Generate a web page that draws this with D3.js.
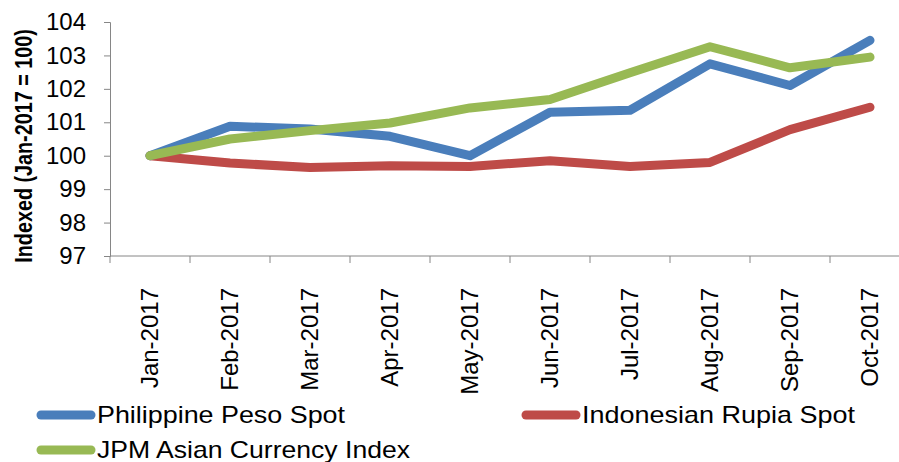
<!DOCTYPE html>
<html>
<head>
<meta charset="utf-8">
<script src="https://cdn.jsdelivr.net/npm/d3@7"></script>
<style>
  body { margin: 0; background: #fff; }
  svg { display: block; font-family: "Liberation Sans", Arial, sans-serif; }
</style>
</head>
<body>
<script>
var months = ['Jan-2017', 'Feb-2017', 'Mar-2017', 'Apr-2017', 'May-2017',
              'Jun-2017', 'Jul-2017', 'Aug-2017', 'Sep-2017', 'Oct-2017'];
var php = [100, 100.88, 100.8, 100.58, 100.0, 101.3, 101.36, 102.75, 102.1, 103.45];
var idr = [100, 99.78, 99.65, 99.7, 99.68, 99.85, 99.68, 99.8, 100.78, 101.45];
var jpm = [100, 100.5, 100.75, 100.98, 101.43, 101.68, 102.48, 103.26, 102.63, 102.95];
var yTicks = [97, 98, 99, 100, 101, 102, 103, 104];
var seriesNames = ['Philippine Peso Spot', 'Indonesian Rupia Spot', 'JPM Asian Currency Index'];

var w = 899;
var h = 462;
var axisColor = '#868686';
var colors = ['#4a7ebb', '#be4b48', '#98b954'];

var svg = d3.select('body')
            .append('svg')
            .attr('width', w)
            .attr('height', h);

// plot area runs a bit past the right edge, like the original
var x = d3.scaleBand().domain(months).range([110, 910]);
var y = d3.scaleLinear().domain([97, 104]).range([256, 22]);

// y axis
var yAxis = svg.append('g')
  .attr('transform', 'translate(110,0)')
  .call(d3.axisLeft(y).tickValues(yTicks).tickSize(6).tickPadding(18).tickFormat(d3.format('d')));
yAxis.select('.domain').attr('stroke', axisColor);
yAxis.selectAll('.tick line').attr('stroke', axisColor);
yAxis.selectAll('.tick text')
  .attr('fill', '#000')
  .attr('font-size', '24px')
  .attr('font-family', '"Liberation Sans", Arial, sans-serif');

// x axis: ticks sit on the band edges
var xAxis = svg.append('g').attr('transform', 'translate(0,256)');
xAxis.append('line')
  .attr('x1', 110).attr('x2', 910)
  .attr('stroke', axisColor);
var edges = months.map(function(m) { return x(m); }).concat([x.range()[1]]);
xAxis.selectAll('line.tk')
  .data(edges)
  .enter()
  .append('line')
    .attr('class', 'tk')
    .attr('x1', function(d) { return d; })
    .attr('x2', function(d) { return d; })
    .attr('y1', 0).attr('y2', 7)
    .attr('stroke', axisColor);
xAxis.selectAll('text')
  .data(months)
  .enter()
  .append('text')
    .attr('transform', function(d) {
      return 'translate(' + (x(d) + x.bandwidth() / 2 + 8) + ',32) rotate(-90)';
    })
    .attr('text-anchor', 'end')
    .attr('font-size', '24px')
    .text(function(d) { return d; });

// y title (squeezed a little, the original font is narrow)
svg.append('text')
  .attr('transform', 'translate(32,146) rotate(-90) scale(0.86,1)')
  .attr('text-anchor', 'middle')
  .attr('font-size', '23px')
  .attr('font-weight', 'bold')
  .text('Indexed (Jan-2017 = 100)');

// lines
var line = d3.line()
  .x(function(d, i) { return x(months[i]) + x.bandwidth() / 2; })
  .y(function(d) { return y(d); });

var data = [php, idr, jpm];
// draw order: red, blue, green (green on top)
[1, 0, 2].forEach(function(k) {
  svg.append('path')
    .datum(data[k])
    .attr('d', line)
    .attr('fill', 'none')
    .attr('stroke', colors[k])
    .attr('stroke-width', 9)
    .attr('stroke-linecap', 'round')
    .attr('stroke-linejoin', 'round');
});

// legend
var legendPos = [[37, 415], [522, 415], [37, 450]];
var legendLen = [248, 273, 313];
seriesNames.forEach(function(name, k) {
  var p = legendPos[k];
  svg.append('line')
    .attr('x1', p[0] + 4).attr('x2', p[0] + 54)
    .attr('y1', p[1]).attr('y2', p[1])
    .attr('stroke', colors[k])
    .attr('stroke-width', 9)
    .attr('stroke-linecap', 'round');
  svg.append('text')
    .attr('x', p[0] + 60)
    .attr('y', p[1] + 8)
    .attr('font-size', '24px')
    .attr('textLength', legendLen[k])
    .attr('lengthAdjust', 'spacingAndGlyphs')
    .text(name);
});
</script>
</body>
</html>
